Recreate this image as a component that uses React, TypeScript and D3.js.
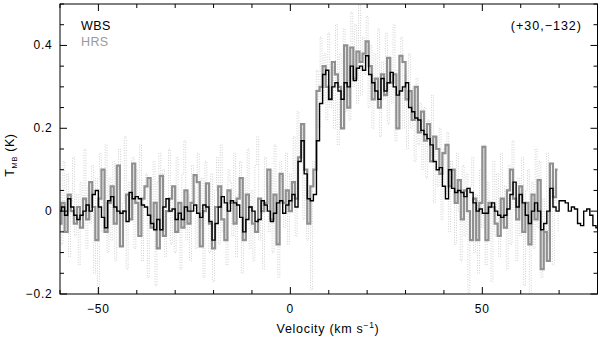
import React from 'react';
import * as d3 from 'd3';

// Channel grids (km/s)
const WBS_V0 = -60;
const WBS_DV = 0.8;
const HRS_V0 = -60;
const HRS_DV = 0.8;
const FINE_V0 = -60;
const FINE_DV = 0.5;

// WBS spectrum T_MB (K)
const wbsT = [
  0.0, 0.01, -0.01, 0.03, 0.01, -0.01, -0.02, -0.01, 0.0, 0.015,
  0.0, 0.04, 0.05, 0.01, -0.015, -0.04, 0.025, 0.035, 0.01, 0.0,
  -0.005, 0.0, -0.025, 0.045, 0.03, 0.035, 0.03, 0.015, 0.01, -0.01,
  -0.03, -0.045, -0.02, -0.045, 0.01, 0.03, 0.0, 0.005, -0.02, -0.005,
  -0.02, 0.01, 0.0, 0.0, 0.015, -0.005, -0.015, 0.015, 0.01, -0.025,
  -0.07, -0.03, 0.01, 0.035, 0.02, 0.0, 0.025, 0.02, 0.015, -0.015,
  -0.05, -0.02, 0.01, 0.0, -0.025, -0.02, 0.025, 0.015, 0.0, -0.025,
  -0.005, 0.02, 0.025, -0.005, 0.015, 0.025, 0.04, 0.01, 0.12, 0.17,
  0.09, 0.03, 0.025, 0.04, 0.17, 0.26, 0.33, 0.34, 0.27, 0.3,
  0.31, 0.29, 0.27, 0.31, 0.3, 0.35, 0.315, 0.345, 0.35, 0.34,
  0.375, 0.33, 0.31, 0.29, 0.27, 0.32, 0.29, 0.31, 0.335, 0.3,
  0.28, 0.29, 0.3, 0.31, 0.25, 0.24, 0.225, 0.22, 0.195, 0.185,
  0.175, 0.16, 0.12, 0.1, 0.105, 0.06, 0.03, 0.1, 0.055, 0.045,
  0.05, 0.045, 0.035, 0.055, 0.045, 0.02, 0.0, 0.005, -0.005, -0.005,
  0.01, 0.02, 0.0, -0.01, -0.015, -0.01, 0.005, 0.04, 0.07, 0.01,
  0.04, 0.02, -0.01, -0.03, 0.0, 0.02, 0.0, -0.045, -0.03, 0.0,
  0.055, 0.01, 0.0, 0.025, 0.025, 0.02, 0.0, 0.01, 0.005, -0.03,
  -0.035, 0.0, 0.005, -0.01, -0.035, -0.04,
];

// HRS spectrum (smoothed), T_MB (K)
const hrsT = [
  -0.03, 0.02, -0.05, 0.04, 0.0, -0.03, 0.01, -0.04, 0.03, -0.02,
  0.07, 0.01, -0.07, 0.03, 0.1, -0.05, 0.02, 0.06, -0.03, 0.11,
  -0.085, 0.0, 0.04, -0.02, 0.115, 0.02, -0.06, 0.03, 0.06, 0.08,
  -0.04, 0.02, -0.09, 0.085, -0.06, 0.0, 0.03, 0.06, -0.05, 0.02,
  -0.04, 0.05, -0.03, 0.02, 0.087, 0.07, -0.085, 0.0, 0.067, -0.03,
  -0.09, 0.01, 0.06, -0.02, -0.07, 0.05, 0.02, -0.03, 0.03, 0.08,
  -0.07, 0.04, 0.01, -0.03, -0.05, 0.03, 0.0, 0.02, 0.1, -0.02,
  0.04, -0.08, 0.09, 0.02, 0.05, 0.0, 0.07, 0.03, 0.13, 0.21,
  0.1, -0.03, 0.06, 0.1, 0.29, 0.3, 0.35, 0.3, 0.27, 0.36,
  0.33, 0.3, 0.2, 0.4, 0.25, 0.395, 0.32, 0.385, 0.36, 0.38,
  0.41, 0.35, 0.27, 0.32, 0.25, 0.33, 0.28, 0.37, 0.31, 0.33,
  0.2, 0.375, 0.36, 0.27, 0.29, 0.22, 0.3, 0.19, 0.24, 0.17,
  0.21, 0.12, 0.18, 0.15, 0.09, 0.14, 0.16, 0.06, 0.1, 0.02,
  0.075, -0.02, 0.05, 0.0, -0.07, 0.03, -0.07, 0.02, 0.155, -0.07,
  0.02, 0.01, -0.03, -0.06, 0.03, -0.04, 0.05, 0.1, 0.03, -0.02,
  0.06, -0.05, 0.02, -0.08, 0.04, -0.02, 0.075, -0.14, -0.05, -0.12,
  0.115, 0.034, 0.1,
];

// HRS spectrum (full resolution), T_MB (K)
const hrsFineT = [
  0.05, -0.08, 0.12, -0.04, 0.09, -0.11, 0.02, 0.13, -0.06, 0.04,
  -0.13, 0.07, 0.01, 0.15, -0.09, 0.06, -0.03, 0.11, -0.15, 0.08,
  -0.2, 0.14, -0.05, 0.03, 0.16, -0.1, 0.08, -0.07, 0.12, -0.12,
  0.05, 0.15, -0.08, 0.02, 0.18, -0.14, 0.07, -0.02, 0.13, -0.09,
  0.1, -0.05, 0.16, -0.12, 0.04, 0.09, -0.16, 0.06, -0.03, 0.12,
  -0.18, 0.07, 0.14, -0.06, 0.1, -0.11, 0.03, 0.15, -0.08, 0.05,
  -0.1, 0.13, 0.0, -0.14, 0.09, 0.17, -0.07, 0.04, -0.12, 0.11,
  0.06, -0.09, 0.14, -0.04, 0.08, -0.16, 0.12, 0.02, -0.1, 0.09,
  -0.17, 0.05, 0.13, -0.08, 0.16, -0.05, 0.03, -0.13, 0.1, 0.07,
  -0.06, 0.14, -0.11, 0.04, 0.12, -0.15, 0.08, -0.02, 0.15, -0.09,
  0.05, -0.12, 0.11, 0.18, -0.07, 0.02, -0.14, 0.13, 0.06, -0.05,
  0.1, -0.1, 0.16, 0.01, -0.16, 0.12, 0.07, -0.04, 0.14, -0.08,
  0.09, 0.02, 0.18, -0.06, 0.24, 0.12, 0.2, -0.02, 0.08, -0.07,
  0.05, -0.19, 0.12, 0.1, 0.34, 0.2, 0.42, 0.26, 0.38, 0.22,
  0.43, 0.25, 0.35, 0.2, 0.45, 0.16, 0.38, 0.28, 0.44, 0.24,
  0.4, 0.22, 0.48, 0.3, 0.45, 0.26, 0.5, 0.28, 0.42, 0.33,
  0.47, 0.25, 0.4, 0.2, 0.38, 0.3, 0.44, 0.18, 0.36, 0.27,
  0.43, 0.21, 0.37, 0.26, 0.45, 0.17, 0.34, 0.28, 0.42, 0.2,
  0.33, 0.15, 0.38, 0.2, 0.3, 0.12, 0.32, 0.16, 0.26, 0.1,
  0.25, 0.08, 0.22, 0.13, 0.28, 0.02, 0.18, 0.06, 0.2, -0.02,
  0.15, 0.04, 0.19, -0.05, 0.12, 0.08, -0.08, 0.14, 0.0, -0.12,
  0.11, -0.06, 0.09, -0.2, 0.06, 0.13, -0.1, 0.04, -0.15, 0.1,
  -0.04, 0.16, -0.13, 0.07, 0.02, -0.17, 0.12, -0.06, 0.09, -0.11,
  0.14, -0.03, 0.06, -0.14, 0.11, -0.08, 0.17, 0.0, -0.12, 0.08,
  -0.06, 0.13, -0.18, 0.05, 0.1, -0.2, 0.07, -0.09, 0.15, -0.04,
  0.12, -0.16, 0.03, -0.11, 0.14, -0.07, 0.09, -0.13, 0.06, 0.02,
  -0.05,
];

const xDomain = [-60, 80];
const yDomain = [-0.2, 0.5];
const xMajorTicks = [-50, 0, 50];
const xTickLabels = ['\u221250', '0', '50'];
const xMinorTicks = [-60, -40, -30, -20, -10, 10, 20, 30, 40, 60, 70, 80];
const yMajorTicks = [-0.2, 0, 0.2, 0.4];
const yTickLabels = ['\u22120.2', '0', '0.2', '0.4'];
const yMinorTicks = [-0.15, -0.1, -0.05, 0.05, 0.1, 0.15, 0.25, 0.3, 0.35, 0.45, 0.5];

const legendLabels = ['WBS', 'HRS'];
const positionLabel = '(+30,\u2212132)';

const W = 600;
const H = 338;
const L = 60;
const R = 597.5;
const T = 4;
const B = 294;
const FONT = '"Liberation Sans", Arial, Helvetica, sans-serif';

export default function App() {
  const x = d3.scaleLinear().domain(xDomain).range([L, R]);
  const y = d3.scaleLinear().domain(yDomain).range([B, T]);

  const mk = (v0: number, dv: number, vals: number[]) =>
    d3
      .line<number>()
      .x((_, i) => x(v0 + i * dv))
      .y((d) => y(d))
      .curve(d3.curveStep)(vals) || '';

  const fineP = mk(FINE_V0, FINE_DV, hrsFineT);
  const hrsP = mk(HRS_V0, HRS_DV, hrsT);
  const wbsP = mk(WBS_V0, WBS_DV, wbsT);

  const majLen = 7;
  const minLen = 4;

  return (
    <svg
      width={W}
      height={H}
      style={{ position: 'absolute', left: 0, top: 0, background: '#fff' }}
      fontFamily={FONT}
    >
      <rect x={0} y={0} width={W} height={H} fill="#fff" />
      <defs>
        <clipPath id="plotclip">
          <rect x={L} y={T} width={R - L} height={B - T} />
        </clipPath>
      </defs>
      <g clipPath="url(#plotclip)">
        <path d={fineP} fill="none" stroke="#cfcfcf" strokeWidth={1} strokeDasharray="1,1.5" />
        <path d={hrsP} fill="none" stroke="#909090" strokeWidth={2.2} />
        <path d={wbsP} fill="none" stroke="#000" strokeWidth={1.4} />
      </g>

      {/* frame */}
      <rect x={L} y={T} width={R - L} height={B - T} fill="none" stroke="#000" strokeWidth={1} />

      {/* x ticks */}
      {xMajorTicks.map((v) => (
        <g key={'xM' + v}>
          <line x1={x(v)} x2={x(v)} y1={B} y2={B - majLen} stroke="#000" />
          <line x1={x(v)} x2={x(v)} y1={T} y2={T + majLen} stroke="#000" />
        </g>
      ))}
      {xMinorTicks.map((v) => (
        <g key={'xm' + v}>
          <line x1={x(v)} x2={x(v)} y1={B} y2={B - minLen} stroke="#000" />
          <line x1={x(v)} x2={x(v)} y1={T} y2={T + minLen} stroke="#000" />
        </g>
      ))}
      {xMajorTicks.map((v, i) => (
        <text key={'xl' + v} x={x(v)} y={312.5} fontSize={12} textAnchor="middle" letterSpacing={0.8}>
          {xTickLabels[i]}
        </text>
      ))}

      {/* y ticks */}
      {yMajorTicks.map((v) => (
        <g key={'yM' + v}>
          <line x1={L} x2={L + majLen} y1={y(v)} y2={y(v)} stroke="#000" />
          <line x1={R} x2={R - majLen} y1={y(v)} y2={y(v)} stroke="#000" />
        </g>
      ))}
      {yMinorTicks.map((v) => (
        <g key={'ym' + v}>
          <line x1={L} x2={L + minLen} y1={y(v)} y2={y(v)} stroke="#000" />
          <line x1={R} x2={R - minLen} y1={y(v)} y2={y(v)} stroke="#000" />
        </g>
      ))}
      {yMajorTicks.map((v, i) => (
        <text key={'yl' + v} x={52.5} y={y(v) + 4} fontSize={12} textAnchor="end" letterSpacing={0.8}>
          {yTickLabels[i]}
        </text>
      ))}

      {/* axis titles */}
      <text x={328} y={332.5} fontSize={12.5} textAnchor="middle" letterSpacing={0.7}>
        Velocity (km s
        <tspan dy={-5} fontSize={8.5}>
          {'\u22121'}
        </tspan>
        <tspan dy={5}>)</tspan>
      </text>
      <text transform="translate(14,155) rotate(-90)" fontSize={12.5} textAnchor="middle" letterSpacing={0.6}>
        T
        <tspan dy={3} fontSize={7.5}>
          MB
        </tspan>
        <tspan dy={-3}> (K)</tspan>
      </text>

      {/* legend */}
      <text x={81} y={29.5} fontSize={12.5} fill="#000" letterSpacing={0.4}>
        {legendLabels[0]}
      </text>
      <text x={81} y={46} fontSize={12.5} fill="#9a9a9a" letterSpacing={0.4}>
        {legendLabels[1]}
      </text>
      <text x={582} y={29.5} fontSize={12.5} textAnchor="end" letterSpacing={1}>
        {positionLabel}
      </text>
    </svg>
  );
}
